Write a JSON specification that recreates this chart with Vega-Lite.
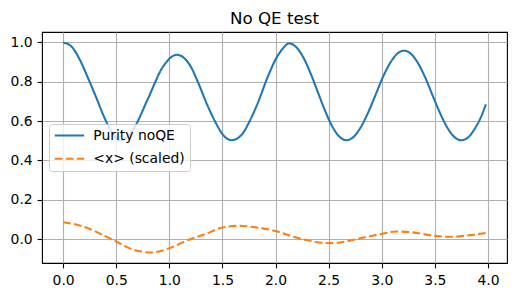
{
  "$schema": "https://vega.github.io/schema/vega-lite/v6.json",
  "width": 465,
  "height": 231,
  "autosize": {"type": "none"},
  "padding": {"left": 42, "top": 32, "right": 9, "bottom": 34},
  "background": "white",
  "title": {
    "text": "No QE test",
    "font": "DejaVu Sans",
    "fontSize": 16.7,
    "fontWeight": "normal",
    "color": "#000",
    "anchor": "middle",
    "baseline": "alphabetic",
    "offset": 8,
    "dy": 17
  },
  "data": {
    "values": [
      {"t": 0.0, "v": 1.0, "s": "Purity noQE"},
      {"t": 0.079, "v": 0.979, "s": "Purity noQE"},
      {"t": 0.157, "v": 0.912, "s": "Purity noQE"},
      {"t": 0.235, "v": 0.818, "s": "Purity noQE"},
      {"t": 0.314, "v": 0.717, "s": "Purity noQE"},
      {"t": 0.377, "v": 0.632, "s": "Purity noQE"},
      {"t": 0.455, "v": 0.548, "s": "Purity noQE"},
      {"t": 0.533, "v": 0.502, "s": "Purity noQE"},
      {"t": 0.6, "v": 0.517, "s": "Purity noQE"},
      {"t": 0.667, "v": 0.564, "s": "Purity noQE"},
      {"t": 0.802, "v": 0.718, "s": "Purity noQE"},
      {"t": 0.936, "v": 0.873, "s": "Purity noQE"},
      {"t": 1.07, "v": 0.937, "s": "Purity noQE"},
      {"t": 1.192, "v": 0.886, "s": "Purity noQE"},
      {"t": 1.271, "v": 0.796, "s": "Purity noQE"},
      {"t": 1.35, "v": 0.691, "s": "Purity noQE"},
      {"t": 1.428, "v": 0.601, "s": "Purity noQE"},
      {"t": 1.506, "v": 0.53, "s": "Purity noQE"},
      {"t": 1.585, "v": 0.503, "s": "Purity noQE"},
      {"t": 1.679, "v": 0.53, "s": "Purity noQE"},
      {"t": 1.757, "v": 0.601, "s": "Purity noQE"},
      {"t": 1.835, "v": 0.695, "s": "Purity noQE"},
      {"t": 1.914, "v": 0.808, "s": "Purity noQE"},
      {"t": 2.002, "v": 0.915, "s": "Purity noQE"},
      {"t": 2.07, "v": 0.97, "s": "Purity noQE"},
      {"t": 2.127, "v": 0.995, "s": "Purity noQE"},
      {"t": 2.1945, "v": 0.976, "s": "Purity noQE"},
      {"t": 2.262, "v": 0.923, "s": "Purity noQE"},
      {"t": 2.3295, "v": 0.843, "s": "Purity noQE"},
      {"t": 2.397, "v": 0.749, "s": "Purity noQE"},
      {"t": 2.4645, "v": 0.655, "s": "Purity noQE"},
      {"t": 2.532, "v": 0.575, "s": "Purity noQE"},
      {"t": 2.5995, "v": 0.522, "s": "Purity noQE"},
      {"t": 2.667, "v": 0.503, "s": "Purity noQE"},
      {"t": 2.735, "v": 0.52, "s": "Purity noQE"},
      {"t": 2.803, "v": 0.57, "s": "Purity noQE"},
      {"t": 2.871, "v": 0.643, "s": "Purity noQE"},
      {"t": 2.939, "v": 0.73, "s": "Purity noQE"},
      {"t": 3.006, "v": 0.818, "s": "Purity noQE"},
      {"t": 3.074, "v": 0.891, "s": "Purity noQE"},
      {"t": 3.142, "v": 0.941, "s": "Purity noQE"},
      {"t": 3.21, "v": 0.958, "s": "Purity noQE"},
      {"t": 3.277, "v": 0.941, "s": "Purity noQE"},
      {"t": 3.345, "v": 0.891, "s": "Purity noQE"},
      {"t": 3.412, "v": 0.818, "s": "Purity noQE"},
      {"t": 3.479, "v": 0.73, "s": "Purity noQE"},
      {"t": 3.547, "v": 0.643, "s": "Purity noQE"},
      {"t": 3.614, "v": 0.57, "s": "Purity noQE"},
      {"t": 3.682, "v": 0.52, "s": "Purity noQE"},
      {"t": 3.749, "v": 0.503, "s": "Purity noQE"},
      {"t": 3.81, "v": 0.516, "s": "Purity noQE"},
      {"t": 3.877, "v": 0.563, "s": "Purity noQE"},
      {"t": 3.93, "v": 0.616, "s": "Purity noQE"},
      {"t": 3.98, "v": 0.685, "s": "Purity noQE"},
      {"t": 0.0, "v": 0.086, "s": "<x> (scaled)"},
      {"t": 0.11, "v": 0.076, "s": "<x> (scaled)"},
      {"t": 0.235, "v": 0.056, "s": "<x> (scaled)"},
      {"t": 0.36, "v": 0.025, "s": "<x> (scaled)"},
      {"t": 0.5, "v": -0.012, "s": "<x> (scaled)"},
      {"t": 0.612, "v": -0.043, "s": "<x> (scaled)"},
      {"t": 0.737, "v": -0.063, "s": "<x> (scaled)"},
      {"t": 0.816, "v": -0.068, "s": "<x> (scaled)"},
      {"t": 0.926, "v": -0.059, "s": "<x> (scaled)"},
      {"t": 1.0, "v": -0.046, "s": "<x> (scaled)"},
      {"t": 1.177, "v": -0.004, "s": "<x> (scaled)"},
      {"t": 1.334, "v": 0.025, "s": "<x> (scaled)"},
      {"t": 1.5, "v": 0.059, "s": "<x> (scaled)"},
      {"t": 1.663, "v": 0.068, "s": "<x> (scaled)"},
      {"t": 1.788, "v": 0.062, "s": "<x> (scaled)"},
      {"t": 2.0, "v": 0.042, "s": "<x> (scaled)"},
      {"t": 2.165, "v": 0.013, "s": "<x> (scaled)"},
      {"t": 2.29, "v": -0.004, "s": "<x> (scaled)"},
      {"t": 2.5, "v": -0.02, "s": "<x> (scaled)"},
      {"t": 2.604, "v": -0.017, "s": "<x> (scaled)"},
      {"t": 2.73, "v": -0.004, "s": "<x> (scaled)"},
      {"t": 2.887, "v": 0.015, "s": "<x> (scaled)"},
      {"t": 3.0, "v": 0.027, "s": "<x> (scaled)"},
      {"t": 3.138, "v": 0.039, "s": "<x> (scaled)"},
      {"t": 3.263, "v": 0.036, "s": "<x> (scaled)"},
      {"t": 3.5, "v": 0.017, "s": "<x> (scaled)"},
      {"t": 3.64, "v": 0.012, "s": "<x> (scaled)"},
      {"t": 3.797, "v": 0.018, "s": "<x> (scaled)"},
      {"t": 3.98, "v": 0.032, "s": "<x> (scaled)"}
    ]
  },
  "mark": {"type": "line", "strokeWidth": 2.08, "interpolate": "monotone"},
  "encoding": {
    "x": {
      "field": "t",
      "type": "quantitative",
      "scale": {"domain": [-0.199, 4.179], "nice": false, "zero": false},
      "axis": {"values": [0, 0.5, 1, 1.5, 2, 2.5, 3, 3.5, 4], "format": ".1f", "title": null}
    },
    "y": {
      "field": "v",
      "type": "quantitative",
      "scale": {"domain": [-0.121, 1.053], "nice": false, "zero": false},
      "axis": {"values": [0, 0.2, 0.4, 0.6, 0.8, 1.0], "format": ".1f", "title": null}
    },
    "color": {
      "field": "s",
      "type": "nominal",
      "scale": {"domain": ["Purity noQE", "<x> (scaled)"], "range": ["#1f77b4", "#ff7f0e"]},
      "legend": {
        "title": null,
        "orient": "none",
        "legendX": 7,
        "legendY": 92,
        "symbolType": "stroke",
        "symbolSize": 864,
        "symbolStrokeWidth": 2.08,
        "clipHeight": 14,
        "labelFont": "DejaVu Sans",
        "labelFontSize": 13.9,
        "labelColor": "#000",
        "labelOffset": 7.8,
        "rowPadding": 9.3,
        "padding": 4.5,
        "fillColor": "rgba(255,255,255,0.8)",
        "strokeColor": "#cccccc",
        "cornerRadius": 3
      }
    },
    "strokeDash": {
      "field": "s",
      "type": "nominal",
      "scale": {"domain": ["Purity noQE", "<x> (scaled)"], "range": [[1, 0], [7.7, 3.3]]},
      "legend": {
        "title": null,
        "orient": "none",
        "legendX": 7,
        "legendY": 92,
        "symbolType": "stroke",
        "symbolSize": 864,
        "symbolStrokeWidth": 2.08,
        "clipHeight": 14,
        "labelFont": "DejaVu Sans",
        "labelFontSize": 13.9,
        "labelColor": "#000",
        "labelOffset": 7.8,
        "rowPadding": 9.3,
        "padding": 4.5,
        "fillColor": "rgba(255,255,255,0.8)",
        "strokeColor": "#cccccc",
        "cornerRadius": 3
      }
    }
  },
  "config": {
    "view": {"stroke": "#000", "strokeWidth": 1.1},
    "axis": {
      "domain": false,
      "grid": true,
      "gridColor": "#b0b0b0",
      "gridWidth": 1.1,
      "ticks": true,
      "tickColor": "#000",
      "tickWidth": 1.1,
      "tickSize": 4.9,
      "labelFont": "DejaVu Sans",
      "labelFontSize": 13.9,
      "labelColor": "#000",
      "labelPadding": 6
    },
    "axisY": {"labelPadding": 4.9}
  }
}
